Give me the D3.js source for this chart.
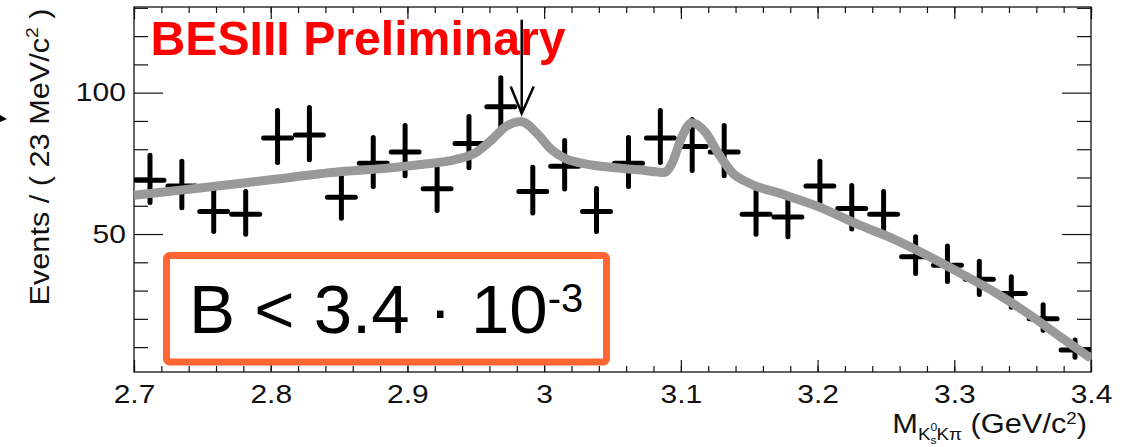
<!DOCTYPE html>
<html>
<head>
<meta charset="utf-8">
<script src="https://cdn.jsdelivr.net/npm/d3@7"></script>
<style>
  body { margin: 0; background: #fff; }
  svg { display: block; font-family: "Liberation Sans", Arial, Helvetica, sans-serif; }
</style>
</head>
<body>
<div id="chart"></div>
<script>
/** DATA */
// bin centres (GeV/c^2), 30 bins of 23 MeV between 2.7 and 3.4
const mass = [2.7117, 2.7350, 2.7583, 2.7817, 2.8050, 2.8283, 2.8517, 2.8750, 2.8983, 2.9217,
              2.9450, 2.9683, 2.9917, 3.0150, 3.0383, 3.0617, 3.0850, 3.1083, 3.1317, 3.1550,
              3.1783, 3.2017, 3.2250, 3.2483, 3.2717, 3.2950, 3.3183, 3.3417, 3.3650, 3.3883];
const events = [69, 67, 58, 57, 84, 85, 63, 75, 79, 66,
                82, 95, 65, 74, 58, 75, 84, 81, 79, 57,
                56, 67, 59, 57, 42, 39, 34, 29, 20, 9];
const binWidth = 0.02333;

// fit curve
const fitMass = [2.70, 2.75, 2.80, 2.85, 2.88, 2.91, 2.935, 2.95, 2.962, 2.972,
                 2.983, 2.995, 3.005, 3.015, 3.03, 3.05, 3.07, 3.088, 3.094, 3.100,
                 3.108, 3.118, 3.128, 3.138, 3.15, 3.175, 3.20, 3.23, 3.255, 3.28,
                 3.305, 3.33, 3.355, 3.378, 3.40];
const fitValue = [63.7, 66.4, 69.2, 72.0, 73.1, 74.6, 76.3, 78.8, 83.5, 88.0,
                  89.8, 85.5, 80.0, 76.8, 74.8, 73.5, 72.7, 71.8, 75.5, 83.5,
                  89.4, 86.0, 78.0, 71.5, 68.0, 64.0, 59.8, 53.3, 48.4, 42.5,
                  36.0, 29.3, 21.5, 13.5, 6.0];

const xMajor = [2.7, 2.8, 2.9, 3.0, 3.1, 3.2, 3.3, 3.4];
const xTickLabels = ["2.7", "2.8", "2.9", "3", "3.1", "3.2", "3.3", "3.4"];
const yMajor = [50, 100];
const yTickLabels = ["50", "100"];
const yMinor = [10, 20, 30, 40, 60, 70, 80, 90, 110, 120, 130];

// arrow pointing at the eta_c position
const arrowMass = 2.9836, arrowTop = 125.8, arrowTip = 92.6;

/** CONSTANTS */
const width = 1130, height = 447,
  plot = { left: 134, right: 1091, top: 7, bottom: 372 },
  stretch = 1.17,
  labelSize = 25.6;

/** SCALES */
const xScale = d3.scaleLinear().domain([2.7, 3.4]).range([plot.left, plot.right]);
const yScale = d3.scaleLinear().domain([1.2, 130.3]).range([plot.bottom, plot.top]);

const svg = d3.select("#chart").append("svg")
  .attr("width", width)
  .attr("height", height);

svg.append("defs").append("clipPath").attr("id", "plotclip")
  .append("rect")
  .attr("x", plot.left).attr("y", plot.top)
  .attr("width", plot.right - plot.left).attr("height", plot.bottom - plot.top);

/** AXES */
function styleAxis(g) {
  g.select(".domain").remove();
  g.selectAll("line").attr("stroke", "#111").attr("stroke-width", 1.2);
  g.attr("font-family", null).attr("font-size", null);
}

// bottom, major with labels
svg.append("g")
  .attr("transform", `translate(0,${plot.bottom})`)
  .call(d3.axisBottom(xScale).tickValues(xMajor).tickSize(-12).tickSizeOuter(0)
    .tickPadding(13).tickFormat((d, i) => xTickLabels[i]))
  .call(styleAxis)
  .selectAll("text")
  .attr("fill", "#111")
  .style("font-size", labelSize + "px")
  .attr("transform", `scale(${stretch},1)`);

// bottom + top minor, top major
svg.append("g").attr("transform", `translate(0,${plot.bottom})`)
  .call(d3.axisBottom(xScale).ticks(35).tickSize(-6).tickSizeOuter(0).tickFormat(""))
  .call(styleAxis);
svg.append("g").attr("transform", `translate(0,${plot.top})`)
  .call(d3.axisTop(xScale).ticks(35).tickSize(-6).tickSizeOuter(0).tickFormat(""))
  .call(styleAxis);
svg.append("g").attr("transform", `translate(0,${plot.top})`)
  .call(d3.axisTop(xScale).tickValues(xMajor).tickSize(-12).tickSizeOuter(0).tickFormat(""))
  .call(styleAxis);

// left, major with labels
svg.append("g")
  .attr("transform", `translate(${plot.left},0)`)
  .call(d3.axisLeft(yScale).tickValues(yMajor).tickSize(-29).tickSizeOuter(0)
    .tickPadding(7).tickFormat((d, i) => yTickLabels[i]))
  .call(styleAxis)
  .selectAll("text")
  .attr("fill", "#111")
  .style("font-size", labelSize + "px")
  .attr("transform", `scale(${stretch},1)`);

svg.append("g").attr("transform", `translate(${plot.left},0)`)
  .call(d3.axisLeft(yScale).tickValues(yMinor).tickSize(-14).tickSizeOuter(0).tickFormat(""))
  .call(styleAxis);
svg.append("g").attr("transform", `translate(${plot.right},0)`)
  .call(d3.axisRight(yScale).tickValues(yMinor).tickSize(-14).tickSizeOuter(0).tickFormat(""))
  .call(styleAxis);
svg.append("g").attr("transform", `translate(${plot.right},0)`)
  .call(d3.axisRight(yScale).tickValues(yMajor).tickSize(-29).tickSizeOuter(0).tickFormat(""))
  .call(styleAxis);

// frame
svg.append("rect")
  .attr("x", plot.left).attr("y", plot.top)
  .attr("width", plot.right - plot.left).attr("height", plot.bottom - plot.top)
  .attr("fill", "none").attr("stroke", "#111").attr("stroke-width", 1.3);

/** DATA POINTS */
const points = svg.append("g").attr("clip-path", "url(#plotclip)")
  .selectAll("g")
  .data(mass.map((m, i) => ({ m, n: events[i] })))
  .join("g")
  .attr("stroke", "#000")
  .attr("stroke-width", 5)
  .attr("stroke-linecap", "round");

// poisson-like asymmetric errors
points.append("line")
  .attr("x1", d => xScale(d.m)).attr("x2", d => xScale(d.m))
  .attr("y1", d => yScale(d.n + 0.5 + Math.sqrt(d.n + 0.25)))
  .attr("y2", d => yScale(d.n + 0.5 - Math.sqrt(d.n + 0.25)));
points.append("line")
  .attr("x1", d => xScale(d.m - binWidth / 2) + 2)
  .attr("x2", d => xScale(d.m + binWidth / 2) - 2)
  .attr("y1", d => yScale(d.n)).attr("y2", d => yScale(d.n));

/** FIT CURVE */
const fitLine = d3.line()
  .x(d => xScale(d[0]))
  .y(d => yScale(d[1]))
  .curve(d3.curveMonotoneX);

svg.append("path")
  .datum(fitMass.map((m, i) => [m, fitValue[i]]))
  .attr("clip-path", "url(#plotclip)")
  .attr("d", fitLine)
  .attr("fill", "none")
  .attr("stroke", "#999999")
  .attr("stroke-width", 9);

/** ARROW */
const ax = xScale(arrowMass), ayTip = yScale(arrowTip);
svg.append("line")
  .attr("x1", ax).attr("x2", ax)
  .attr("y1", yScale(arrowTop)).attr("y2", ayTip)
  .attr("stroke", "#000").attr("stroke-width", 2.5);
svg.append("polyline")
  .attr("points", `${ax - 11},${ayTip - 27} ${ax},${ayTip} ${ax + 12},${ayTip - 27}`)
  .attr("fill", "none").attr("stroke", "#000").attr("stroke-width", 2.5)
  .attr("stroke-linejoin", "miter");

/** TEXTS */
svg.append("text")
  .attr("x", 150.5).attr("y", 54.5)
  .attr("fill", "#ff0000")
  .style("font-size", "48.2px").style("font-weight", "bold")
  .text("BESIII Preliminary");

// axis titles
const yt = svg.append("text")
  .attr("transform", "translate(49,157) rotate(-90)")
  .attr("text-anchor", "middle")
  .attr("fill", "#111")
  .attr("textLength", 297).attr("lengthAdjust", "spacingAndGlyphs")
  .style("font-size", "27px");
yt.append("tspan").text("Events / ( 23 MeV/c");
yt.append("tspan").attr("dy", -11).style("font-size", "17px").text("2");
yt.append("tspan").attr("dy", 11).text(" )");

const xt = svg.append("text")
  .attr("transform", `translate(1087,433) scale(1.1,1)`)
  .attr("text-anchor", "end")
  .attr("fill", "#111")
  .style("font-size", "28px");
xt.append("tspan").text("M");
xt.append("tspan").attr("dy", 7).style("font-size", "17px").text("K");
xt.append("tspan").attr("dy", -9).style("font-size", "11px").text("0");
xt.append("tspan").attr("dx", -6).attr("dy", 13).style("font-size", "11px").text("s");
xt.append("tspan").attr("dy", -4).style("font-size", "17px").text("Kπ");
xt.append("tspan").attr("dy", -7).text(" (GeV/c");
xt.append("tspan").attr("dy", -9).style("font-size", "17px").text("2");
xt.append("tspan").attr("dy", 9).text(")");

// branching fraction box
svg.append("rect")
  .attr("x", 166.5).attr("y", 255.5)
  .attr("width", 440).attr("height", 106.5)
  .attr("rx", 3)
  .attr("fill", "#fff")
  .attr("stroke", "#ff6633").attr("stroke-width", 7);
const bt = svg.append("text")
  .attr("x", 189).attr("y", 333.3)
  .attr("fill", "#000")
  .style("font-size", "69px");
bt.append("tspan").text("B < 3.4 \u00b7 10");
bt.append("tspan").attr("dy", -21.7).style("font-size", "40px").text("-3");

// small marker at the left edge
svg.append("path")
  .attr("d", "M0,115 L7,119 L0,122 Z")
  .attr("fill", "#000");
</script>
</body>
</html>
